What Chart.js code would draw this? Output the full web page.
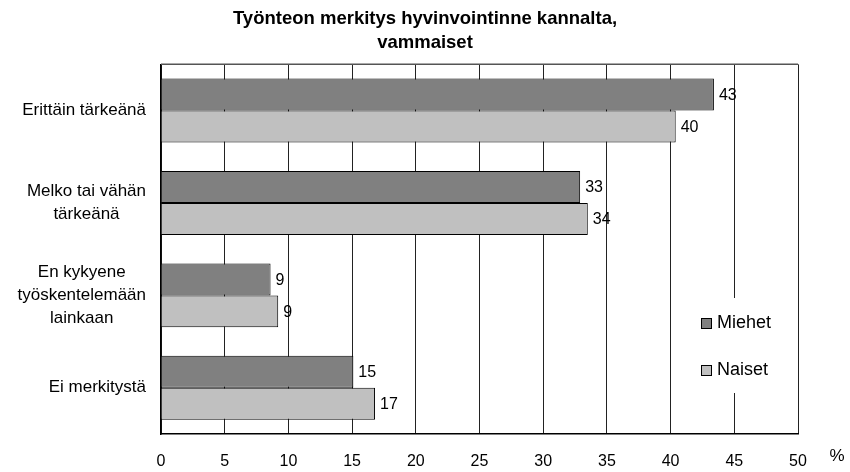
<!DOCTYPE html>
<html>
<head>
<meta charset="utf-8">
<script src="https://cdn.jsdelivr.net/npm/chart.js@4/dist/chart.umd.min.js"></script>
<style>
  body { margin: 0; background: #fff; }
  canvas { display: block; }
</style>
</head>
<body>
<canvas id="chart" width="850" height="472"></canvas>
<script>
// data
const categories = [
    ['Erittäin tärkeänä'],
    ['Melko tai vähän', 'tärkeänä'],
    ['En kykyene', 'työskentelemään', 'lainkaan'],
    ['Ei merkitystä']
];
const miehet = [43.4, 32.9, 8.6, 15.1];
const naiset = [40.4, 33.5, 9.2, 16.8];
const seriesNames = ['Miehet', 'Naiset'];
const xMin = 0, xMax = 50, xStep = 5;
const titleLines = ['Työnteon merkitys hyvinvointinne kannalta,', 'vammaiset'];
const unitLabel = '%';

const FONT = "'Liberation Sans', Arial, sans-serif";

// extra drawing: category labels, value labels, frame, legend, unit
const extras = {
    id: 'extras',
    afterDatasetsDraw(chart) {
        const ctx = chart.ctx;
        const area = chart.chartArea;
        ctx.save();

        // value labels at bar ends
        ctx.font = '16px ' + FONT;
        ctx.fillStyle = '#000';
        ctx.textBaseline = 'middle';
        ctx.textAlign = 'left';
        chart.data.datasets.forEach((ds, di) => {
            chart.getDatasetMeta(di).data.forEach((bar, i) => {
                ctx.fillText(String(Math.round(ds.data[i])), bar.x + 5, bar.y + 1);
            });
        });

        // top frame line
        ctx.strokeStyle = '#555';
        ctx.lineWidth = 1.5;
        ctx.beginPath();
        ctx.moveTo(area.left, area.top);
        ctx.lineTo(area.right, area.top);
        ctx.stroke();

        // legend box inside the plot
        ctx.fillStyle = '#fff';
        ctx.fillRect(694, 298, area.right - 694 - 1, 95);
        ctx.font = '18px ' + FONT;
        const legendY = [323, 370];
        chart.data.datasets.forEach((ds, di) => {
            const y = legendY[di];
            ctx.fillStyle = ds.backgroundColor;
            ctx.fillRect(701, y - 5, 10, 10);
            ctx.strokeStyle = '#000';
            ctx.lineWidth = 1;
            ctx.strokeRect(701.5, y - 4.5, 10, 10);
            ctx.fillStyle = '#000';
            ctx.fillText(ds.label, 717, y);
        });

        // unit after the x axis
        ctx.font = '17px ' + FONT;
        ctx.textAlign = 'center';
        ctx.fillText(unitLabel, 837, 456);

        // category labels: lines centred in their block, blocks right aligned
        const yScale = chart.scales.y;
        ctx.font = '17px ' + FONT;
        const lineH = 23;
        categories.forEach((lines, i) => {
            const cy = yScale.getPixelForTick(i);
            const w = Math.max(...lines.map(l => ctx.measureText(l).width));
            const cx = area.left - 15 - w / 2;
            lines.forEach((l, k) => {
                ctx.fillText(l, cx, cy + (k - (lines.length - 1) / 2) * lineH);
            });
        });

        ctx.restore();
    }
};

new Chart(document.getElementById('chart'), {
    type: 'bar',
    data: {
        labels: categories,
        datasets: [{
            label: seriesNames[0],
            data: miehet,
            backgroundColor: '#808080',
            borderColor: '#000',
            borderWidth: 1,
            categoryPercentage: 0.692,
            barPercentage: 1.0
        }, {
            label: seriesNames[1],
            data: naiset,
            backgroundColor: '#c0c0c0',
            borderColor: '#000',
            borderWidth: 1,
            categoryPercentage: 0.692,
            barPercentage: 1.0
        }]
    },
    options: {
        indexAxis: 'y',
        responsive: false,
        animation: false,
        layout: { padding: 0 },
        plugins: {
            legend: { display: false },
            tooltip: { enabled: false },
            title: {
                display: true,
                text: titleLines,
                color: '#000',
                font: { family: FONT, size: 18.5, weight: 'bold', lineHeight: 1.28 },
                padding: { top: 7, bottom: 10 }
            }
        },
        scales: {
            x: {
                type: 'linear',
                min: xMin,
                max: xMax,
                ticks: {
                    stepSize: xStep,
                    color: '#000',
                    padding: 18,
                    font: { family: FONT, size: 16 }
                },
                grid: { color: '#222', lineWidth: 1, drawTicks: false },
                border: { color: '#000', width: 1.5 },
                afterFit(scale) { scale.height = 38; }
            },
            y: {
                ticks: { display: false },
                grid: { display: false, drawTicks: false },
                border: { color: '#000', width: 1.5 },
                afterFit(scale) { scale.width = 161; }
            },
            // empty right-hand axis: keeps the gap for the % sign, title stays centred on the page
            yRight: {
                type: 'category',
                position: 'right',
                ticks: { display: false },
                grid: { display: false, drawTicks: false },
                border: { display: false },
                afterFit(scale) { scale.width = 52; }
            }
        }
    },
    plugins: [extras]
});
</script>
</body>
</html>
